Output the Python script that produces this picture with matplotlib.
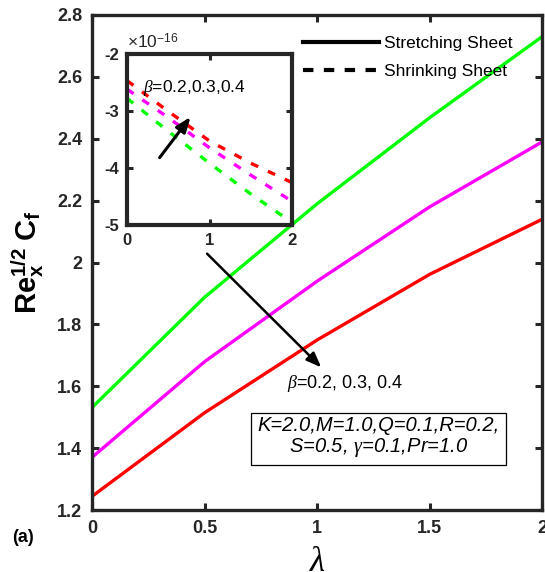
import matplotlib
matplotlib.use("Agg")
import matplotlib.pyplot as plt
from matplotlib.lines import Line2D
from matplotlib.ticker import FuncFormatter

plt.rcParams["font.family"] = "Liberation Sans"
plt.rcParams["mathtext.fontset"] = "custom"
plt.rcParams["mathtext.rm"] = "Liberation Sans"
plt.rcParams["mathtext.it"] = "Liberation Serif:italic"
plt.rcParams["mathtext.bf"] = "Liberation Sans:bold"
plt.rcParams["axes.unicode_minus"] = False

# skin friction vs lambda, stretching sheet (beta = 0.2, 0.3, 0.4)
lam = [0, 0.5, 1, 1.5, 2]
cf_b02 = [1.245, 1.515, 1.75, 1.962, 2.14]
cf_b03 = [1.371, 1.68, 1.94, 2.18, 2.39]
cf_b04 = [1.532, 1.888, 2.19, 2.468, 2.73]

# shrinking sheet (values are of order 1e-16)
cf_s02 = [-2.47e-16, -3.01e-16, -3.53e-16, -3.92e-16, -4.26e-16]
cf_s03 = [-2.62e-16, -3.12e-16, -3.65e-16, -4.13e-16, -4.59e-16]
cf_s04 = [-2.78e-16, -3.36e-16, -3.92e-16, -4.46e-16, -4.96e-16]

colors = ["#ff0000", "#ff00ff", "#00ff00"]
frame = "#262626"

fig = plt.figure(figsize=(5.45, 5.72), dpi=100)
ax = fig.add_axes([0.169, 0.108, 0.826, 0.866])

for y, c in zip([cf_b02, cf_b03, cf_b04], colors):
    ax.plot(lam, y, color=c, lw=2.4, solid_capstyle="butt")

ax.set_xlim(0, 2)
ax.set_ylim(1.2, 2.8)
ax.set_xticks([0, 0.5, 1, 1.5, 2])
ax.set_xticklabels(["0", "0.5", "1", "1.5", "2"])
ax.set_yticks([1.2, 1.4, 1.6, 1.8, 2.0, 2.2, 2.4, 2.6, 2.8])
ax.set_yticklabels(["1.2", "1.4", "1.6", "1.8", "2", "2.2", "2.4", "2.6", "2.8"])
ax.tick_params(direction="in", length=5, width=2.2, top=True, right=True,
               labelsize=13, colors=frame, pad=7)
for lbl in ax.get_xticklabels() + ax.get_yticklabels():
    lbl.set_fontweight("bold")
for s in ax.spines.values():
    s.set_linewidth(2.4)
    s.set_color(frame)

ax.set_ylabel(r"$\mathbf{Re}_\mathbf{x}^\mathbf{1/2}\ \mathbf{C}_\mathbf{f}$",
              fontsize=21, labelpad=8)
ax.set_xlabel(r"$\lambda$", fontsize=25, labelpad=6)
fig.text(0.022, 0.052, "(a)", fontsize=13, fontweight="bold")

ax.annotate("", xy=(1.027, 1.655), xytext=(0.502, 2.035),
            arrowprops=dict(arrowstyle="-|>,head_length=0.9,head_width=0.35",
                            color="black", lw=1.8))
ax.text(0.865, 1.61, r"$\beta$=0.2, 0.3, 0.4", fontsize=13, va="center")

ax.text(1.273, 1.434, "K=2.0,M=1.0,Q=0.1,R=0.2,\nS=0.5, $\\gamma$=0.1,Pr=1.0",
        fontsize=14.5, style="italic", ha="center", va="center",
        linespacing=1.05,
        bbox=dict(boxstyle="square,pad=0.3", fc="white", ec="black", lw=0.9))

handles = [Line2D([], [], color="black", lw=3),
           Line2D([], [], color="black", lw=3, ls=(0, (2.5, 2.5)))]
fig.legend(handles, ["Stretching Sheet", "Shrinking Sheet"], frameon=False,
           loc="upper left", bbox_to_anchor=(0.556, 0.937), fontsize=12.5,
           handlelength=4.4, handletextpad=0.25, labelspacing=0.75,
           borderpad=0, borderaxespad=0)

# inset: shrinking sheet, y ticks shown in units of 1e-16
ins = fig.add_axes([0.233, 0.607, 0.303, 0.299])
for y, c in zip([cf_s02, cf_s03, cf_s04], colors):
    ins.plot(lam, y, color=c, lw=2.4, ls=(0, (2.4, 3.2)))
ins.set_xlim(0, 2)
ins.set_ylim(-5e-16, -2e-16)
ins.set_xticks([0, 1, 2])
ins.set_yticks([-5e-16, -4e-16, -3e-16, -2e-16])
ins.yaxis.set_major_formatter(FuncFormatter(lambda v, p: f"{v / 1e-16:.0f}"))
ins.text(0.0, 1.015, r"$\times$10$^{\mathregular{-16}}$", transform=ins.transAxes,
         fontsize=12.5, ha="left", va="bottom", color=frame)
ins.tick_params(direction="in", length=4, width=2.2, top=True, right=True,
                labelsize=12, colors=frame, pad=6)
for lbl in ins.get_xticklabels() + ins.get_yticklabels():
    lbl.set_fontweight("bold")
for s in ins.spines.values():
    s.set_linewidth(3)
    s.set_color(frame)

ins.annotate("", xy=(0.79, -3.07e-16), xytext=(0.375, -3.86e-16),
             arrowprops=dict(arrowstyle="-|>,head_length=0.9,head_width=0.35",
                             color="black", lw=2.2))
ins.text(0.19, -2.6e-16, r"$\beta$=0.2,0.3,0.4", fontsize=12.5, va="center")

fig.savefig("out.png", dpi=100)
